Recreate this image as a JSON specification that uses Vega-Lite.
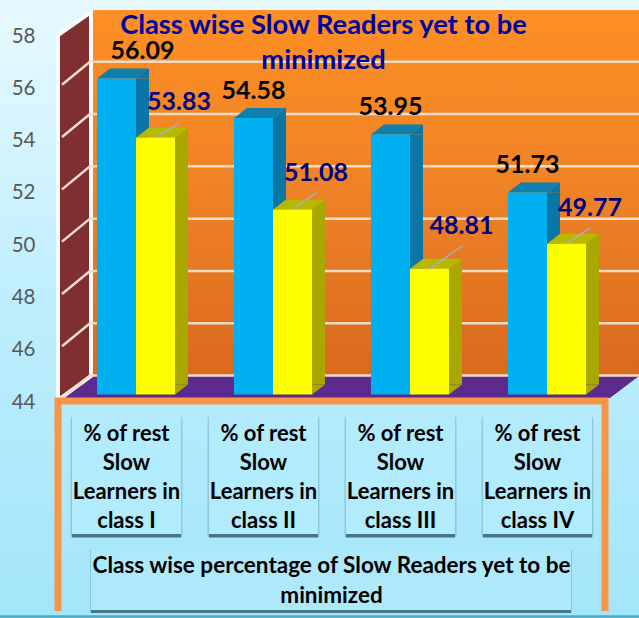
{"$schema":"https://vega.github.io/schema/vega-lite/v6.json","width":639,"height":618,"padding":0,"autosize":"none",
"background":"#c5effd",
"config":{"view":{"stroke":null},"font":"Lato"},
"title":{"text":["Class wise Slow Readers yet to be","minimized"],"font":"Lato","fontWeight":"bold","fontSize":27.3,"color":"#00009C","lineHeight":35,"anchor":"middle","frame":"group","dx":4,"offset":-74,"baseline":"top"},
"datasets":{
"bars":[
{"class":"% of rest Slow Learners in class I","series":"Blue","value":56.09},
{"class":"% of rest Slow Learners in class I","series":"Yellow","value":53.83},
{"class":"% of rest Slow Learners in class II","series":"Blue","value":54.58},
{"class":"% of rest Slow Learners in class II","series":"Yellow","value":51.08},
{"class":"% of rest Slow Learners in class III","series":"Blue","value":53.95},
{"class":"% of rest Slow Learners in class III","series":"Yellow","value":48.81},
{"class":"% of rest Slow Learners in class IV","series":"Blue","value":51.73},
{"class":"% of rest Slow Learners in class IV","series":"Yellow","value":49.77}],
"ticks":[{"tick":44},{"tick":46},{"tick":48},{"tick":50},{"tick":52},{"tick":54},{"tick":56},{"tick":58}],
"classes":[{"class":"% of rest Slow Learners in class I"},{"class":"% of rest Slow Learners in class II"},{"class":"% of rest Slow Learners in class III"},{"class":"% of rest Slow Learners in class IV"}],
"one":[{"k":1}]},
"layer":[
{"data":{"name":"one"},"mark":{"type":"point","shape":"M0,0H639V618H0Z","size":4,"filled":true,"opacity":1,"fill":{"gradient":"linear","x1":0,"y1":0,"x2":0,"y2":1,"stops":[{"offset":0,"color":"#e8f9ff"},{"offset":0.5,"color":"#bdeefd"},{"offset":1,"color":"#a3e5fa"}]}},"encoding":{"x":{"value":0},"y":{"value":0}}},
{"data":{"name":"one"},"mark":{"type":"point","shape":"M90,10H639V377H90Z","size":4,"filled":true,"opacity":1,"fill":{"gradient":"linear","x1":0,"y1":0,"x2":0,"y2":1,"stops":[{"offset":0,"color":"#fd8f24"},{"offset":0.5,"color":"#ee8226"},{"offset":1,"color":"#d9691e"}]}},"encoding":{"x":{"value":0},"y":{"value":0}}},
{"data":{"name":"one"},"mark":{"type":"point","shape":"M62,398L91,376H639L610,398Z","size":4,"filled":true,"opacity":1,"fill":"#5b2a8c"},"encoding":{"x":{"value":0},"y":{"value":0}}},
{"data":{"name":"one"},"mark":{"type":"point","shape":"M58,35L91,12V376L58,400Z","size":4,"filled":true,"opacity":1,"fill":"#7f2f2f","stroke":"#f6fbff","strokeWidth":4},"encoding":{"x":{"value":0},"y":{"value":0}}},
{"data":{"name":"ticks"},"mark":{"type":"point","shape":"M0,4L28,-19L577,-19","size":4,"filled":false,"opacity":1,"stroke":"#f7dcc8","strokeWidth":2.5},"transform":[{"filter":"datum.tick<58"}],"encoding":{"x":{"value":62},"y":{"field":"tick","type":"quantitative"}}},
{"data":{"name":"bars"},"mark":{"type":"bar","fill":{"expr":"datum.series=='Blue'?'#00b0f0':'#ffff00'"},"opacity":0},"encoding":{
"x":{"field":"class","type":"nominal","sort":null,"scale":{"domain":["% of rest Slow Learners in class I","% of rest Slow Learners in class II","% of rest Slow Learners in class III","% of rest Slow Learners in class IV"],"range":[67.5,615.5],"paddingInner":0.43,"paddingOuter":0.215},
"axis":{"orient":"bottom","offset":-195,"domain":false,"ticks":false,"grid":false,"zindex":2,"labelAngle":0,"labelExpr":"['% of rest','Slow','Learners in',slice(datum.value,27)]","labelFont":"Lato","labelFontWeight":"bold","labelFontSize":22,"labelColor":"#000000","labelLineHeight":29,"labelOffset":-9.5,"labelPadding":0,"labelBaseline":"top","labelLimit":0,"labelOverlap":false,"title":["Class wise percentage of Slow Readers yet to be","minimized"],"titleFont":"Lato","titleFontWeight":"bold","titleFontSize":22.5,"titleColor":"#000000","titleLineHeight":30,"titleX":331,"titleY":142,"titleAnchor":"middle","titleBaseline":"middle"}},
"xOffset":{"field":"series","scale":{"domain":["Blue","Yellow"]}},
"y":{"field":"value","type":"quantitative","scale":{"domain":[44,58],"range":[394.5,28.5],"nice":false,"zero":false},
"axis":{"orient":"left","offset":-35,"values":[44,46,48,50,52,54,56,58],"domain":false,"ticks":false,"grid":false,"zindex":2,"labelFont":"Lato","labelFontSize":20.5,"labelColor":"#595959","labelPadding":0,"labelOffset":7.5,"labelBaseline":"middle","labelAlign":"right","labelBound":false,"labelFlush":false,"labelOverlap":false,"title":null}},
"y2":{"datum":44}}},
{"data":{"name":"bars"},"mark":{"type":"bar","width":13,"xOffset":{"expr":"datum.series=='Blue'?6.5:45.5"},"fill":{"expr":"datum.series=='Blue'?'#0a76a6':'#a8a800'"}},"encoding":{"x":{"field":"class","type":"nominal"},"y":{"field":"value","type":"quantitative"},"y2":{"datum":44.38}}},
{"data":{"name":"bars"},"mark":{"type":"point","shape":"M19.5,0L32.5,-10V0Z","size":4,"filled":true,"opacity":1,"fill":{"expr":"datum.series=='Blue'?'#0a76a6':'#a8a800'"}},"encoding":{"x":{"field":"class","type":"nominal"},"xOffset":{"field":"series"},"y":{"field":"value","type":"quantitative"}}},
{"data":{"name":"bars"},"mark":{"type":"point","shape":"M19.5,0L32.5,-10H19.5Z","size":4,"filled":true,"opacity":1,"fill":{"expr":"datum.series=='Blue'?'#0a76a6':'#a8a800'"}},"encoding":{"x":{"field":"class","type":"nominal"},"xOffset":{"field":"series"},"y":{"datum":44}}},
{"data":{"name":"bars"},"mark":{"type":"point","shape":"M-19.5,0H19.5L32.5,-10H-6.5Z","size":4,"filled":true,"opacity":1,"fill":{"expr":"datum.series=='Blue'?'#0f7fae':'#b8b800'"}},"encoding":{"x":{"field":"class","type":"nominal"},"xOffset":{"field":"series"},"y":{"field":"value","type":"quantitative"}}},
{"data":{"name":"bars"},"mark":{"type":"bar","fill":{"expr":"datum.series=='Blue'?'#00b0f0':'#ffff00'"}},"encoding":{"x":{"field":"class","type":"nominal"},"xOffset":{"field":"series"},"y":{"field":"value","type":"quantitative"},"y2":{"datum":44}}},
{"data":{"name":"bars"},"transform":[{"filter":"datum.series=='Yellow'"}],"mark":{"type":"point","size":4,"filled":false,"opacity":1,"stroke":"#a4aec8","strokeWidth":1.5},"encoding":{"x":{"field":"class","type":"nominal"},"xOffset":{"field":"series"},"y":{"field":"value","type":"quantitative"},"shape":{"field":"class","legend":null,"scale":{"type":"ordinal","domain":["% of rest Slow Learners in class I","% of rest Slow Learners in class II","% of rest Slow Learners in class III","% of rest Slow Learners in class IV"],"range":["M0,0L23,-14","M0,0L24,-17","M0,0L33,-23","M0,0L24,-16"]}}}},
{"data":{"name":"bars"},"mark":{"type":"text","font":"Lato","fontWeight":"bold","fontSize":25,"align":"center","baseline":"middle",
"dx":{"expr":"datum.value==56.09?26:datum.value==48.81?32:datum.series=='Yellow'?23.5:0"},
"dy":{"expr":"datum.value==48.81?-43:datum.series=='Yellow'?-36:-27"},
"fill":{"expr":"datum.series=='Blue'?'#000000':'#000080'"}},"encoding":{"x":{"field":"class","type":"nominal"},"xOffset":{"field":"series"},"y":{"field":"value","type":"quantitative"},"text":{"field":"value","type":"quantitative","format":".2f"}}},
{"data":{"name":"one"},"mark":{"type":"point","shape":"M0,616.5H639","size":4,"filled":false,"opacity":1,"stroke":"#4babc6","strokeWidth":2.5},"encoding":{"x":{"value":0},"y":{"value":0}}},
{"data":{"name":"one"},"mark":{"type":"point","shape":"M58,611V401H605V611","size":4,"filled":false,"opacity":1,"stroke":"#f79646","strokeWidth":7},"encoding":{"x":{"value":0},"y":{"value":0}}},
{"data":{"name":"classes"},"mark":{"type":"bar","width":112,"xOffset":-9.5,"fill":"#4f7d8e","opacity":0.3},"encoding":{"x":{"field":"class","type":"nominal"},"y":{"datum":43.14},"y2":{"datum":38.55}}},
{"data":{"name":"classes"},"mark":{"type":"bar","width":109,"xOffset":-9.5,"fill":"#3f6d7e","opacity":0.9},"encoding":{"x":{"field":"class","type":"nominal"},"y":{"datum":43.14},"y2":{"datum":38.53}}},
{"data":{"name":"classes"},"mark":{"type":"bar","width":109,"xOffset":-9.5,"fill":"#b2ebfc"},"encoding":{"x":{"field":"class","type":"nominal"},"y":{"datum":43.14},"y2":{"datum":38.66}}},
{"data":{"name":"one"},"mark":{"type":"point","shape":"M90,550H572V613H90Z","size":4,"filled":true,"opacity":0.3,"fill":"#4f7d8e"},"encoding":{"x":{"value":0},"y":{"value":0}}},
{"data":{"name":"one"},"mark":{"type":"point","shape":"M91,550H571V613H91Z","size":4,"filled":true,"opacity":0.9,"fill":"#3f6d7e"},"encoding":{"x":{"value":0},"y":{"value":0}}},
{"data":{"name":"one"},"mark":{"type":"point","shape":"M91,550H571V610H91Z","size":4,"filled":true,"opacity":1,"fill":"#aee9fb"},"encoding":{"x":{"value":0},"y":{"value":0}}}
]}
